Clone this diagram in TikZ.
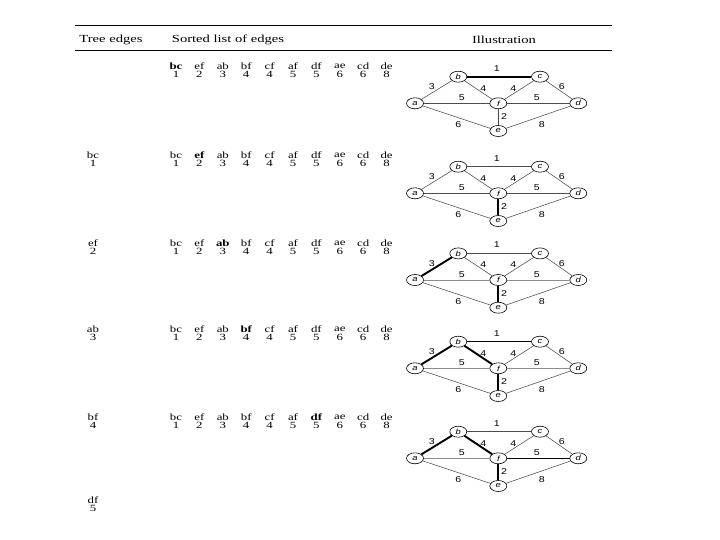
\documentclass[tikz,border=0pt]{standalone}
\usepackage{fontspec}
\setmainfont{Liberation Serif}[FakeStretch=1.35]
\newfontfamily\wsans{Liberation Sans}[FakeStretch=1.25]
\usetikzlibrary{shapes.geometric}
\tikzset{
  hdr/.style={font=\fontsize{10.8}{12}\selectfont, inner sep=0pt},
  lst/.style={font=\fontsize{9.5}{10}\selectfont, inner sep=0pt},
  vx/.style={draw, line width=0.6pt, ellipse, minimum width=17pt, minimum height=11pt, inner sep=0pt, font=\wsans\itshape\fontsize{7.5}{8}\selectfont},
  wt/.style={inner sep=0pt, font=\wsans\fontsize{8.5}{9}\selectfont},
  thinedge/.style={line width=0.55pt, black!70},
  boldedge/.style={line width=1.9pt, black},
  midedge/.style={line width=1.1pt, black},
  ebc/.style={thinedge}, eef/.style={thinedge}, eab/.style={thinedge},
  ebf/.style={thinedge}, ecf/.style={thinedge}, eaf/.style={thinedge},
  edf/.style={thinedge}, eae/.style={thinedge}, ecd/.style={thinedge},
  ede/.style={thinedge}
}
\newcommand\kgraph[2]{%
  \begin{scope}[shift={(498.3,#2)}]
    \node[vx] (a#1) at (-83.3,0) {a};
    \node[vx] (b#1) at (-40,-26.6) {b};
    \node[vx] (c#1) at (41.7,-26.6) {c};
    \node[vx] (d#1) at (80,0) {d};
    \node[vx] (f#1) at (0,0) {f};
    \node[vx] (e#1) at (0,27.7) {e};
    \draw[ebc] (b#1) -- (c#1);
    \draw[eef] (e#1) -- (f#1);
    \draw[eab] (a#1) -- (b#1);
    \draw[ebf] (b#1) -- (f#1);
    \draw[ecf] (c#1) -- (f#1);
    \draw[eaf] (a#1) -- (f#1);
    \draw[edf] (d#1) -- (f#1);
    \draw[eae] (a#1) -- (e#1);
    \draw[ecd] (c#1) -- (d#1);
    \draw[ede] (d#1) -- (e#1);
    \node[wt] (wbc#1) at (-1.6,-35) {1};
    \node[wt] (wab#1) at (-66.6,-16.6) {3};
    \node[wt] (wbf#1) at (-15,-15) {4};
    \node[wt] (wcf#1) at (15,-15) {4};
    \node[wt] (wcd#1) at (63.4,-16.6) {6};
    \node[wt] (waf#1) at (-36.6,-5.6) {5};
    \node[wt] (wdf#1) at (38.4,-5.6) {5};
    \node[wt] (wef#1) at (5.7,13.4) {2};
    \node[wt] (wae#1) at (-40,21.7) {6};
    \node[wt] (wde#1) at (43.4,21.7) {8};
  \end{scope}}
\newcommand\klist[3]{%
  \foreach \nm/\w [count=\i] in {bc/1,ef/2,ab/3,bf/4,cf/4,af/5,df/5,ae/6,cd/6,de/8}{
    \node[lst] (l#1-\i) at ({176+23.4*(\i-1)},#2) {\ifnum\i=#3\bfseries\fi\nm};
    \node[lst] (n#1-\i) at ({176+23.4*(\i-1)},#2+8.5) {\w};
  }}
\newcommand\ktree[4]{%
  \node[lst] (t#1) at (93,#2) {#3};
  \node[lst] (tn#1) at (93,#2+8.5) {#4};}
\begin{document}
\begin{tikzpicture}[x=1pt,y=-1pt]
  \useasboundingbox[fill=white] (0,0) rectangle (720,540);
  \coordinate (r1l) at (75,26); \coordinate (r1r) at (612,26);
  \coordinate (r2l) at (75,50.5); \coordinate (r2r) at (612,50.5);
  \draw[line width=1pt] (r1l) -- (r1r);
  \draw[line width=1pt] (r2l) -- (r2r);
  \node[hdr] (h1) at (111,39.5) {Tree edges};
  \node[hdr] (h2) at (228,39.5) {Sorted list of edges};
  \node[hdr] (h3) at (504,39.5) {Illustration};
  % rows of lists
  \klist{1}{66}{1}
  \ktree{2}{155}{bc}{1}
  \klist{2}{155}{2}
  \ktree{3}{243}{ef}{2}
  \klist{3}{243}{3}
  \ktree{4}{329}{ab}{3}
  \klist{4}{329}{4}
  \ktree{5}{417}{bf}{4}
  \klist{5}{417}{7}
  \ktree{6}{500}{df}{5}
  % graphs
  \begin{scope}[ebc/.style={boldedge}]
    \kgraph{1}{103.3}
  \end{scope}
  \begin{scope}[eef/.style={boldedge}]
    \kgraph{2}{193.3}
  \end{scope}
  \begin{scope}[eef/.style={boldedge}, eab/.style={boldedge}, eaf/.style={line width=0.55pt, black!45}, edf/.style={line width=0.55pt, black!45}]
    \kgraph{3}{280}
  \end{scope}
  \begin{scope}[eef/.style={boldedge}, eab/.style={boldedge}, ebf/.style={boldedge}, ebc/.style={midedge}, eaf/.style={line width=0.55pt, black!45}, edf/.style={line width=0.55pt, black!45}]
    \kgraph{4}{368.3}
  \end{scope}
  \begin{scope}[eef/.style={boldedge}, eab/.style={boldedge}, ebf/.style={boldedge}, edf/.style={midedge}, eaf/.style={line width=0.55pt, black!45}]
    \kgraph{5}{458.3}
  \end{scope}
\end{tikzpicture}
\end{document}
